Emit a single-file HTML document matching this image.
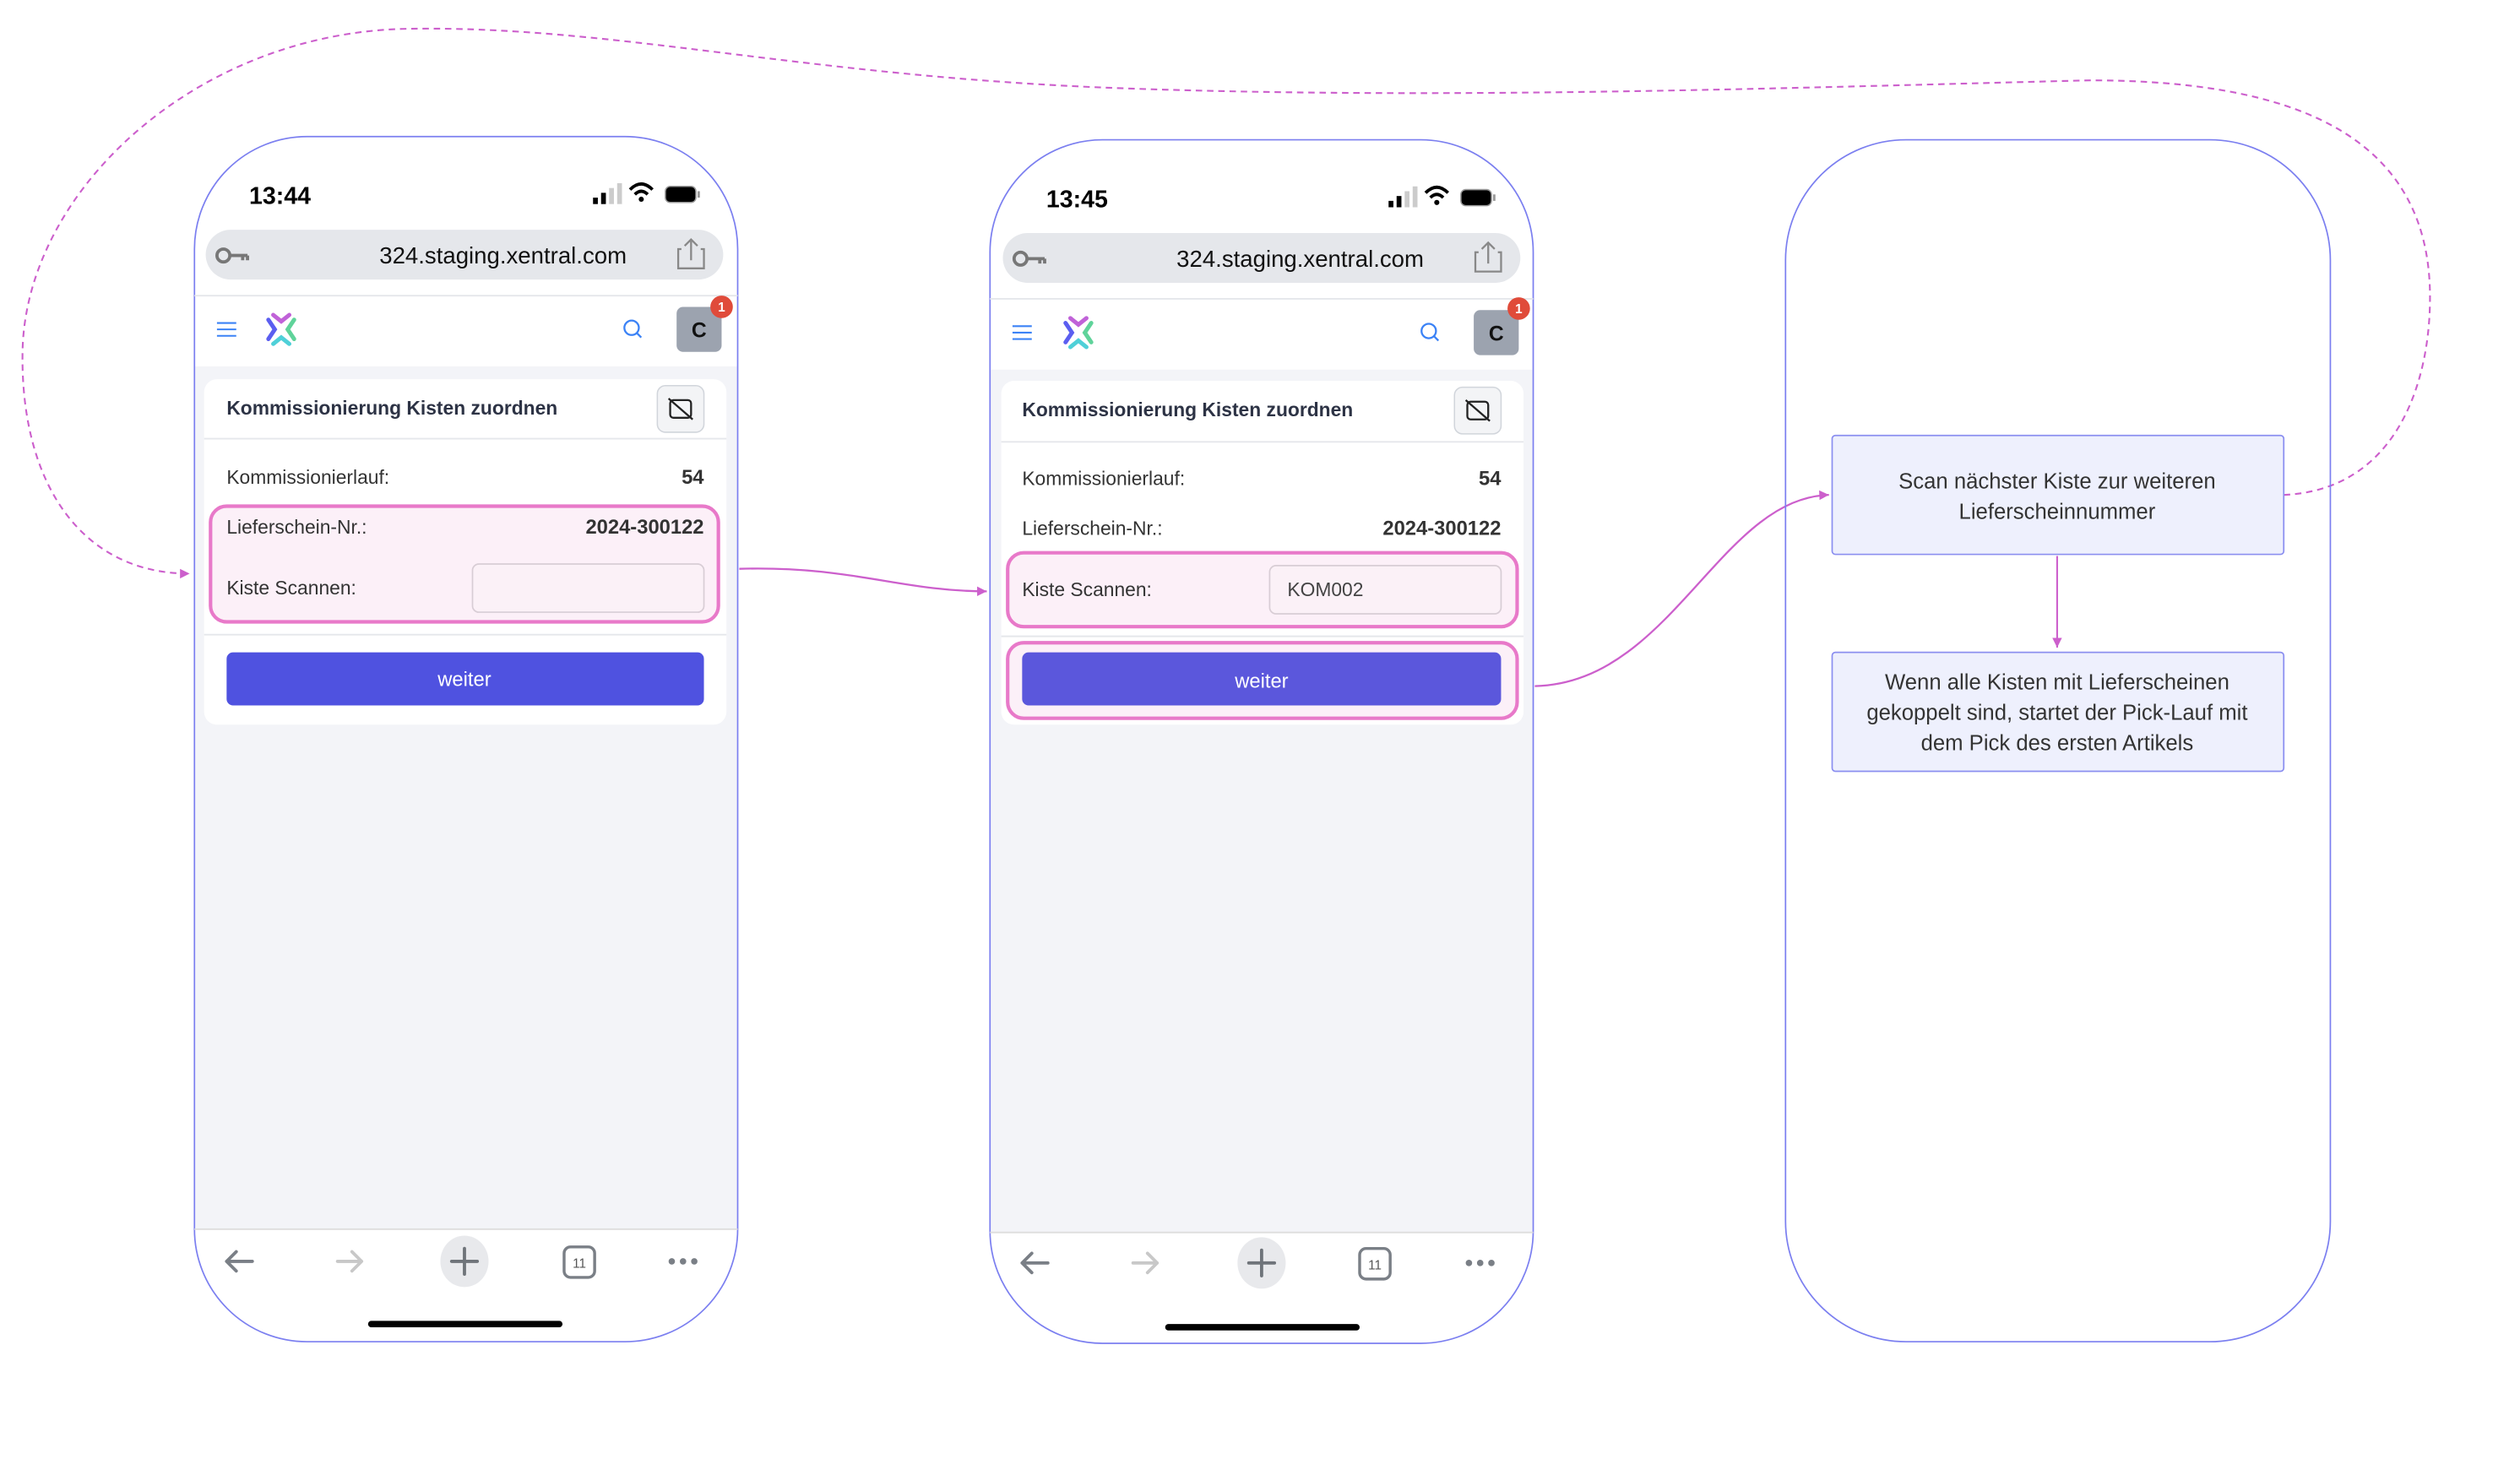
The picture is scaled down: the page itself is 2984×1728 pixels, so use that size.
<!DOCTYPE html>
<html><head><meta charset="utf-8"><style>
html,body{margin:0;padding:0;background:#fff;}
svg{display:block;}
text{font-family:"Liberation Sans",sans-serif;}
</style></head><body>
<svg width="2984" height="1728" viewBox="0 0 1568 908" preserveAspectRatio="none" xmlns="http://www.w3.org/2000/svg">
<defs>
<marker id="ar" markerWidth="8" markerHeight="8" refX="6" refY="4" orient="auto" markerUnits="userSpaceOnUse">
<path d="M0,1 L6,4 L0,7 z" fill="#cc5fcc"/></marker>
</defs>

<!-- connectors -->
<path d="M460,354 C530,352 560,368 614,368" fill="none" stroke="#cc5fcc" stroke-width="1.2" marker-end="url(#ar)"/>
<path d="M955,427 C1040,425 1070,310 1138,308" fill="none" stroke="#cc5fcc" stroke-width="1.2" marker-end="url(#ar)"/>
<path d="M1421,308 C1490,305 1512,240 1512,185 C1512,80 1420,50 1300,50 C1100,55 900,62 700,55 C500,48 380,15 250,18 C120,22 15,120 14,220 C13,300 50,357 118,357" fill="none" stroke="#cc5fcc" stroke-width="1.1" stroke-dasharray="4,3" marker-end="url(#ar)"/>
<path d="M1280,346 L1280,403" fill="none" stroke="#cc5fcc" stroke-width="1.1" marker-end="url(#ar)"/>

<!-- PHONE 1 -->
<g transform="translate(121,85)">
<rect x="0" y="0" width="338" height="750" rx="70" fill="#fff"/>
<rect x="0.5" y="143" width="337" height="537" fill="#f3f4f8"/>
<rect x="0" y="0" width="338" height="750" rx="70" fill="none" stroke="#7b7ff0" stroke-width="0.9"/>
<text x="34" y="42" font-size="15" font-weight="bold" fill="#000">13:44</text>
<rect x="248" y="38" width="3" height="4" fill="#000"/><rect x="253" y="35" width="3" height="7" fill="#000"/><rect x="258" y="32" width="3" height="10" fill="#ccc"/><rect x="263" y="29" width="3" height="13" fill="#ccc"/>
<path d="M271,33 Q278,26 285,33 M274,36 Q278,32 282,36" fill="none" stroke="#000" stroke-width="2"/><circle cx="278" cy="39" r="1.6" fill="#000"/>
<rect x="293" y="31" width="19" height="10" rx="3" fill="#000" stroke="#999" stroke-width="0.8"/><rect x="313" y="34" width="1.5" height="4" fill="#999"/>
<rect x="7" y="58" width="322" height="31" rx="15.5" fill="#e5e7eb"/>
<circle cx="18" cy="74" r="4" fill="none" stroke="#777" stroke-width="2"/><path d="M22,74 H33 M30,74 V77 M33,74 V77" stroke="#777" stroke-width="2"/>
<text x="192" y="79" font-size="14.5" text-anchor="middle" fill="#111">324.staging.xentral.com</text>
<path d="M303,70 H301 V82 H317 V70 H315 M309,77 V65 M305,68 L309,64 L313,68" fill="none" stroke="#888" stroke-width="1.2"/>
<line x1="0" y1="99" x2="338" y2="99" stroke="#e5e7eb"/>
<path d="M14,116 H26 M14,120 H26 M14,124 H26" stroke="#3b82f6" stroke-width="1.1"/>
<g transform="translate(54,120)" fill="none" stroke-width="2.6" stroke-linecap="round">
<path d="M-8,-6 L-4,0 L-8,6" stroke="#5b5ef0"/><path d="M-5,-9 L0,-5 L5,-9" stroke="#c062d8"/><path d="M8,-6 L4,0 L8,6" stroke="#5fd39a"/><path d="M-5,9 L0,5 L5,9" stroke="#4fd0d8"/></g>
<circle cx="272" cy="119" r="4.5" fill="none" stroke="#3b82f6" stroke-width="1.2"/><line x1="275" y1="122" x2="278" y2="125" stroke="#3b82f6" stroke-width="1.2"/>
<rect x="300" y="106" width="28" height="28" rx="4" fill="#9ca3af"/><text x="314" y="125" font-size="13" font-weight="bold" text-anchor="middle" fill="#111">C</text>
<circle cx="328" cy="106" r="7" fill="#e04b3a"/><text x="328" y="109" font-size="8" text-anchor="middle" fill="#fff" font-weight="bold">1</text>
<rect x="6" y="151" width="325" height="215" rx="8" fill="#fff"/>
<text x="20" y="173" font-size="12" font-weight="bold" fill="#2d3345">Kommissionierung Kisten zuordnen</text>
<rect x="288" y="155" width="29" height="29" rx="5" fill="#f3f4f6" stroke="#d1d5db" stroke-width="0.8"/>
<rect x="296" y="164" width="13" height="11" rx="2" fill="none" stroke="#222" stroke-width="1.2"/><line x1="295" y1="163" x2="310" y2="176" stroke="#222" stroke-width="1.2"/>
<line x1="6" y1="188" x2="331" y2="188" stroke="#e5e7eb"/>
<text x="20" y="216" font-size="12" fill="#333">Kommissionierlauf:</text>
<text x="317" y="216" font-size="12.5" font-weight="bold" text-anchor="end" fill="#333">54</text>
<rect x="10" y="230" width="316" height="72" rx="10" fill="#fcf0f8" stroke="#e879c9" stroke-width="2.2"/>
<text x="20" y="247" font-size="12" fill="#333">Lieferschein-Nr.:</text>
<text x="317" y="247" font-size="12.5" font-weight="bold" text-anchor="end" fill="#333">2024-300122</text>
<text x="20" y="285" font-size="12" fill="#333">Kiste Scannen:</text>
<rect x="173" y="266" width="144" height="30" rx="4" fill="#fbf1f7" stroke="#d8cdd5" stroke-width="0.9"/>
<line x1="6" y1="310" x2="331" y2="310" stroke="#e5e7eb"/>
<rect x="20" y="321" width="297" height="33" rx="4" fill="#4f52e0"/>
<text x="168" y="342" font-size="12.5" text-anchor="middle" fill="#fff">weiter</text>
<line x1="0" y1="680" x2="338" y2="680" stroke="#ddd"/>
<path d="M20,700 H36 M20,700 L26,694 M20,700 L26,706" stroke="#7a7f86" stroke-width="2" stroke-linecap="round"/>
<path d="M89,700 H104 M104,700 L98,694 M104,700 L98,706" stroke="#c8c8c8" stroke-width="2" stroke-linecap="round"/>
<ellipse cx="168" cy="700" rx="15" ry="16" fill="#e8e9ec"/><path d="M168,692 V708 M160,700 H176" stroke="#6f747a" stroke-width="2" stroke-linecap="round"/>
<rect x="230" y="691" width="19" height="19" rx="4" fill="none" stroke="#7a7f86" stroke-width="1.8"/><text x="239.5" y="704" font-size="8" text-anchor="middle" fill="#555">11</text>
<circle cx="297" cy="700" r="2" fill="#7a7f86"/><circle cx="304" cy="700" r="2" fill="#7a7f86"/><circle cx="311" cy="700" r="2" fill="#7a7f86"/>
<rect x="108" y="737" width="121" height="4" rx="2" fill="#000"/>
</g>

<!-- PHONE 2 -->
<g transform="translate(616,87)">
<rect x="0" y="0" width="338" height="749" rx="70" fill="#fff"/>
<rect x="0.5" y="143" width="337" height="537" fill="#f3f4f8"/>
<rect x="0" y="0" width="338" height="749" rx="70" fill="none" stroke="#7b7ff0" stroke-width="0.9"/>
<text x="35" y="42" font-size="15" font-weight="bold" fill="#000">13:45</text>
<rect x="248" y="38" width="3" height="4" fill="#000"/><rect x="253" y="35" width="3" height="7" fill="#000"/><rect x="258" y="32" width="3" height="10" fill="#ccc"/><rect x="263" y="29" width="3" height="13" fill="#ccc"/>
<path d="M271,33 Q278,26 285,33 M274,36 Q278,32 282,36" fill="none" stroke="#000" stroke-width="2"/><circle cx="278" cy="39" r="1.6" fill="#000"/>
<rect x="293" y="31" width="19" height="10" rx="3" fill="#000" stroke="#999" stroke-width="0.8"/><rect x="313" y="34" width="1.5" height="4" fill="#999"/>
<rect x="8" y="58" width="322" height="31" rx="15.5" fill="#e5e7eb"/>
<circle cx="19" cy="74" r="4" fill="none" stroke="#777" stroke-width="2"/><path d="M23,74 H34 M31,74 V77 M34,74 V77" stroke="#777" stroke-width="2"/>
<text x="193" y="79" font-size="14.5" text-anchor="middle" fill="#111">324.staging.xentral.com</text>
<path d="M304,70 H302 V82 H318 V70 H316 M310,77 V65 M306,68 L310,64 L314,68" fill="none" stroke="#888" stroke-width="1.2"/>
<line x1="0" y1="99" x2="338" y2="99" stroke="#e5e7eb"/>
<path d="M14,116 H26 M14,120 H26 M14,124 H26" stroke="#3b82f6" stroke-width="1.1"/>
<g transform="translate(55,120)" fill="none" stroke-width="2.6" stroke-linecap="round">
<path d="M-8,-6 L-4,0 L-8,6" stroke="#5b5ef0"/><path d="M-5,-9 L0,-5 L5,-9" stroke="#c062d8"/><path d="M8,-6 L4,0 L8,6" stroke="#5fd39a"/><path d="M-5,9 L0,5 L5,9" stroke="#4fd0d8"/></g>
<circle cx="273" cy="119" r="4.5" fill="none" stroke="#3b82f6" stroke-width="1.2"/><line x1="276" y1="122" x2="279" y2="125" stroke="#3b82f6" stroke-width="1.2"/>
<rect x="301" y="106" width="28" height="28" rx="4" fill="#9ca3af"/><text x="315" y="125" font-size="13" font-weight="bold" text-anchor="middle" fill="#111">C</text>
<circle cx="329" cy="105" r="7" fill="#e04b3a"/><text x="329" y="108" font-size="8" text-anchor="middle" fill="#fff" font-weight="bold">1</text>
<rect x="7" y="150" width="325" height="214" rx="8" fill="#fff"/>
<text x="20" y="172" font-size="12" font-weight="bold" fill="#2d3345">Kommissionierung Kisten zuordnen</text>
<rect x="289" y="154" width="29" height="29" rx="5" fill="#f3f4f6" stroke="#d1d5db" stroke-width="0.8"/>
<rect x="297" y="163" width="13" height="11" rx="2" fill="none" stroke="#222" stroke-width="1.2"/><line x1="296" y1="162" x2="311" y2="175" stroke="#222" stroke-width="1.2"/>
<line x1="7" y1="188" x2="332" y2="188" stroke="#e5e7eb"/>
<text x="20" y="215" font-size="12" fill="#333">Kommissionierlauf:</text>
<text x="318" y="215" font-size="12.5" font-weight="bold" text-anchor="end" fill="#333">54</text>
<text x="20" y="246" font-size="12" fill="#333">Lieferschein-Nr.:</text>
<text x="318" y="246" font-size="12.5" font-weight="bold" text-anchor="end" fill="#333">2024-300122</text>
<rect x="11" y="257" width="317" height="46" rx="10" fill="#fcf0f8" stroke="#e879c9" stroke-width="2.2"/>
<text x="20" y="284" font-size="12" fill="#333">Kiste Scannen:</text>
<rect x="174" y="265" width="144" height="30" rx="4" fill="#fbf1f7" stroke="#d8cdd5" stroke-width="0.9"/>
<text x="185" y="284" font-size="12" fill="#444">KOM002</text>
<line x1="7" y1="309" x2="332" y2="309" stroke="#e5e7eb"/>
<rect x="11" y="313" width="317" height="47" rx="10" fill="#fcf0f8" stroke="#e879c9" stroke-width="2.2"/>
<rect x="20" y="319" width="298" height="33" rx="4" fill="#5b57dc"/>
<text x="169" y="341" font-size="12.5" text-anchor="middle" fill="#fff">weiter</text>
<line x1="0" y1="680" x2="338" y2="680" stroke="#ddd"/>
<path d="M20,699 H36 M20,699 L26,693 M20,699 L26,705" stroke="#7a7f86" stroke-width="2" stroke-linecap="round"/>
<path d="M89,699 H104 M104,699 L98,693 M104,699 L98,705" stroke="#c8c8c8" stroke-width="2" stroke-linecap="round"/>
<ellipse cx="169" cy="699" rx="15" ry="16" fill="#e8e9ec"/><path d="M169,691 V707 M161,699 H177" stroke="#6f747a" stroke-width="2" stroke-linecap="round"/>
<rect x="230" y="690" width="19" height="19" rx="4" fill="none" stroke="#7a7f86" stroke-width="1.8"/><text x="239.5" y="703" font-size="8" text-anchor="middle" fill="#555">11</text>
<circle cx="298" cy="699" r="2" fill="#7a7f86"/><circle cx="305" cy="699" r="2" fill="#7a7f86"/><circle cx="312" cy="699" r="2" fill="#7a7f86"/>
<rect x="109" y="737" width="121" height="4" rx="2" fill="#000"/>
</g>

<!-- PHONE 3 -->
<rect x="1111" y="87" width="339" height="748" rx="75" fill="none" stroke="#7b7ff0" stroke-width="0.9"/>
<rect x="1140" y="271" width="281" height="74" rx="2" fill="#eef0fd" stroke="#8b8ff0" stroke-width="0.9"/>
<text x="1280" y="304" font-size="13.5" text-anchor="middle" fill="#333">Scan nächster Kiste zur weiteren</text>
<text x="1280" y="323" font-size="13.5" text-anchor="middle" fill="#333">Lieferscheinnummer</text>
<rect x="1140" y="406" width="281" height="74" rx="2" fill="#eef0fd" stroke="#8b8ff0" stroke-width="0.9"/>
<text x="1280" y="429" font-size="13.5" text-anchor="middle" fill="#333">Wenn alle Kisten mit Lieferscheinen</text>
<text x="1280" y="448" font-size="13.5" text-anchor="middle" fill="#333">gekoppelt sind, startet der Pick-Lauf mit</text>
<text x="1280" y="467" font-size="13.5" text-anchor="middle" fill="#333">dem Pick des ersten Artikels</text>
</svg>
</body></html>
